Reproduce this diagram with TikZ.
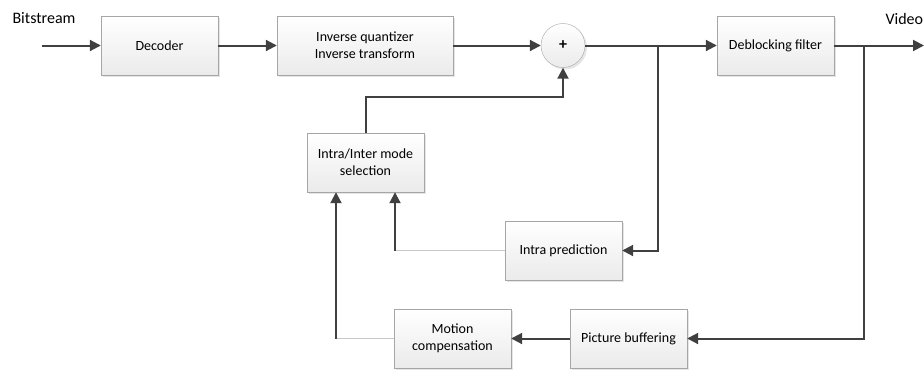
\documentclass[tikz,border=0pt]{standalone}
\usepackage{fontspec}
\setmainfont{Carlito}
\usetikzlibrary{arrows.meta,shadows}
\definecolor{linedark}{HTML}{404040}
\definecolor{linelight}{HTML}{C8C8C8}
\definecolor{boxedge}{HTML}{A6A6A6}
\tikzset{
  block/.style={draw=boxedge, top color=white, bottom color=gray!16, align=center,
    font=\fontsize{14}{17}\selectfont, minimum width=117pt, minimum height=59pt,
    drop shadow={shadow xshift=2pt, shadow yshift=-2pt, fill=gray!50, opacity=.4}},
  flow/.style={draw=linedark, line width=2pt, -{Triangle[length=11pt,width=11pt]}},
  feed/.style={draw=linelight, line width=1.2pt},
  label/.style={font=\fontsize{16}{18}\selectfont, anchor=west},
}
\begin{document}
\begin{tikzpicture}[x=10pt, y=-10pt]
  \useasboundingbox (0,0) rectangle (92.4,37.2);
  % blocks
  \node [block] (dec) at (15.95, 4.55) {Decoder};
  \node [block, minimum width=176pt] (inv) at (36.5, 4.55) {Inverse quantizer\\Inverse transform};
  \node [draw=boxedge, circle, minimum size=44pt, top color=white, bottom color=gray!16,
    font=\fontsize{16}{16}\selectfont\bfseries,
    drop shadow={shadow xshift=2pt, shadow yshift=-2pt, fill=gray!50, opacity=.4}] (add) at (56.3, 4.55) {+};
  \node [block] (deb) at (77.55, 4.55) {Deblocking filter};
  \node [block] (sel) at (36.55, 16.25) {Intra/Inter mode\\selection};
  \node [block] (intra) at (56.35, 25.05) {Intra prediction};
  \node [block] (mc) at (45.25, 33.85) {Motion\\compensation};
  \node [block] (pic) at (62.85, 33.85) {Picture buffering};
  % labels
  \node [label] (bits) at (0.9, 1.85) {Bitstream};
  \node [label] (vid) at (88.2, 1.85) {Video};
  % helper points
  \coordinate (in) at (4.2, 4.55);
  \coordinate (out) at (92.4, 4.55);
  \coordinate (b1) at (65.8, 4.55);
  \coordinate (b2) at (86.4, 4.55);
  \coordinate (up) at (36.55, 9.7);
  \coordinate (k1) at (39.5, 25.05);
  \coordinate (k2) at (33.6, 33.85);
  % connectors
  \draw [flow] (in) -- (dec);
  \draw [flow] (dec) -- (inv);
  \draw [flow] (inv) -- (add);
  \draw [flow] (add) -- (deb);
  \draw [flow] (deb) -- (out);
  \draw [flow] (b1) |- (intra);
  \draw [flow] (b2) |- (pic);
  \draw [flow] (pic) -- (mc);
  \draw [flow] (sel) -- (up) -| (add);
  \draw [feed] (intra) -- (k1);
  \draw [feed] (mc) -- (k2);
  \draw [flow] (k1) -- (sel.south -| k1);
  \draw [flow] (k2) -- (sel.south -| k2);
\end{tikzpicture}
\end{document}
